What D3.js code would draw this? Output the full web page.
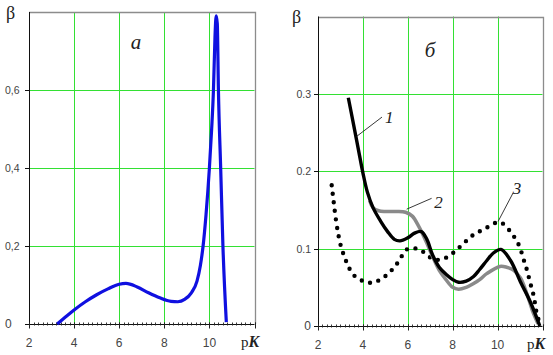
<!DOCTYPE html>
<html><head><meta charset="utf-8">
<script src="https://cdn.jsdelivr.net/npm/d3@7"></script>
<style>body{margin:0;background:#fff}svg{display:block}</style>
</head><body>
<script>
// ---- data ----
const xTicks = [2, 4, 6, 8, 10];
const yTicksA = [0, 0.2, 0.4, 0.6];
const yLabelsA = ["0", "0,2", "0,4", "0,6"];
const yTicksB = [0, 0.1, 0.2, 0.3];
const yLabelsB = ["0", "0.1", "0.2", "0.3"];

// panel а (blue)
const pkA = [3.25,3.7,4.0,4.5,5.0,5.5,6.0,6.3,6.8,7.3,7.8,8.3,8.6,8.9,9.2,9.45,9.6,9.72,9.85,10.0,10.1,10.18,10.25,10.3,10.35,10.4,10.5,10.6,10.75];
const betaA = [0,0.022,0.036,0.057,0.075,0.09,0.102,0.104,0.095,0.08,0.067,0.058,0.057,0.063,0.08,0.11,0.15,0.2,0.28,0.4,0.5,0.6,0.74,0.79,0.77,0.6,0.4,0.2,0.005];

// panel б, curve 1 (black)
const pk1 = [3.35,3.6,3.8,4.0,4.2,4.45,4.8,5.1,5.4,5.65,6.0,6.3,6.6,6.85,7.1,7.4,7.74,8.0,8.26,8.6,8.93,9.2,9.53,9.8,10.15,10.57,11.02,11.46,11.88];
const beta1 = [0.295,0.258,0.228,0.198,0.173,0.153,0.135,0.122,0.112,0.11,0.114,0.12,0.122,0.112,0.092,0.076,0.066,0.06,0.0565,0.058,0.064,0.073,0.085,0.094,0.099,0.085,0.057,0.031,0];
// curve 2 (grey)
const pk2 = [4.3,4.45,4.7,5.0,5.5,5.9,6.2,6.5,6.8,7.1,7.4,7.7,8.0,8.26,8.6,8.93,9.2,9.53,10.1,10.4,10.72,11.02,11.3,11.55,11.8];
const beta2 = [0.162,0.153,0.149,0.148,0.148,0.147,0.142,0.128,0.11,0.09,0.072,0.06,0.05,0.0475,0.05,0.055,0.06,0.068,0.077,0.076,0.072,0.062,0.042,0.02,0.003];
// curve 3 (dotted)
const pk3 = [2.61,2.7,2.8,2.92,3.05,3.2,3.35,3.62,4.02,4.4,4.77,5.21,5.58,5.96,6.4,6.78,7.15,7.6,8.04,8.49,8.93,9.45,9.98,10.2,10.57,10.94,11.17,11.32,11.46,11.6,11.76,11.88];
const beta3 = [0.182,0.16,0.137,0.116,0.1,0.088,0.077,0.065,0.058,0.056,0.06,0.07,0.083,0.099,0.1,0.094,0.086,0.087,0.095,0.107,0.118,0.126,0.134,0.133,0.122,0.105,0.085,0.071,0.055,0.04,0.014,0.004];

const W = 553, H = 355;
const svg = d3.select("body").append("svg").attr("width", W).attr("height", H);

function panel(opts) {
  const x = d3.scaleLinear().domain([2, 12]).range(opts.xr);
  const y = d3.scaleLinear().domain(opts.yd).range(opts.yr);
  const g = svg.append("g");
  const [x0, x1] = opts.xr, [y0, y1] = opts.yr;
  g.selectAll(".vg").data(xTicks.filter(v => v > 2)).join("line")
    .attr("x1", d => Math.round(x(d)) + 0.5).attr("x2", d => Math.round(x(d)) + 0.5)
    .attr("y1", y1).attr("y2", y0).attr("stroke", "#33e033").attr("stroke-width", 1);
  g.selectAll(".hg").data(opts.yt.filter(v => v > 0)).join("line")
    .attr("x1", x0).attr("x2", x1)
    .attr("y1", d => Math.round(y(d)) + 0.5).attr("y2", d => Math.round(y(d)) + 0.5)
    .attr("stroke", "#33e033").attr("stroke-width", 1);
  g.append("path").attr("d", `M${x0},${Math.round(y1)+0.5}H${Math.round(x1)+0.5}V${y0}`)
    .attr("fill", "none").attr("stroke", "#8c8c8c").attr("stroke-width", 1.3);
  g.append("line").attr("x1", Math.round(x0)+0.5).attr("x2", Math.round(x0)+0.5)
    .attr("y1", y1).attr("y2", y0).attr("stroke", "#111").attr("stroke-width", 1);
  g.selectAll(".yt").data(opts.yt).join("line")
    .attr("x1", x0 - 4).attr("x2", x0)
    .attr("y1", d => Math.round(y(d)) + 0.5).attr("y2", d => Math.round(y(d)) + 0.5)
    .attr("stroke", "#111");
  g.selectAll(".yl").data(opts.yt).join("text")
    .attr("x", opts.ylx).attr("y", d => y(d) + 4)
    .attr("text-anchor", opts.yanchor)
    .attr("font-family", "Liberation Sans, Arial, sans-serif")
    .attr("font-size", d => d === 0 ? 12 : 10.5).attr("fill", "#444")
    .text((d, i) => opts.yl[i]);
  const by = Math.round(y(0)) + 0.5;
  g.append("line").attr("x1", x0).attr("x2", x1).attr("y1", by).attr("y2", by)
    .attr("stroke", "#111");
  const minor = d3.range(2, 12.001, 0.2);
  g.selectAll(".mt").data(minor).join("line")
    .attr("x1", d => Math.round(x(d)) + 0.5).attr("x2", d => Math.round(x(d)) + 0.5)
    .attr("y1", by - 2).attr("y2", by + 1).attr("stroke", "#222").attr("stroke-width", 0.9);
  g.selectAll(".Mt").data(xTicks.concat([12])).join("line")
    .attr("x1", d => Math.round(x(d)) + 0.5).attr("x2", d => Math.round(x(d)) + 0.5)
    .attr("y1", by - 2).attr("y2", by + 4).attr("stroke", "#222");
  g.selectAll(".xl").data(xTicks).join("text")
    .attr("x", d => x(d)).attr("y", by + 22).attr("text-anchor", "middle")
    .attr("font-family", "Liberation Sans, Arial, sans-serif")
    .attr("font-size", 12).attr("fill", "#444").text(d => d);
  const pk = g.append("text").attr("x", opts.pkx).attr("y", by + 22)
    .attr("font-family", "Liberation Serif, Times New Roman, serif").attr("fill", "#222");
  pk.append("tspan").attr("font-size", 15).text("p");
  pk.append("tspan").attr("font-size", 16).attr("font-weight", "bold").attr("font-style", "italic").text("K");
  g.append("text").attr("x", opts.bx).attr("y", opts.by)
    .attr("font-family", "Liberation Serif, Times New Roman, serif")
    .attr("font-size", 18).attr("fill", "#222").text("β");
  g.append("text").attr("x", opts.lx).attr("y", opts.ly).attr("text-anchor", "middle")
    .attr("font-family", "Liberation Serif, Times New Roman, serif")
    .attr("font-size", 21).attr("font-style", "italic").attr("fill", "#222").text(opts.letter);
  return {g, x, y};
}

const A = panel({xr: [29, 254.5], yr: [324, 12], yd: [0, 0.8], yt: yTicksA, yl: yLabelsA,
  ylx: 5, yanchor: "start", pkx: 241, bx: 6, by: 19, lx: 136, ly: 49, letter: "а"});
const B = panel({xr: [318, 542.5], yr: [326, 16.5], yd: [0, 0.4], yt: yTicksB, yl: yLabelsB,
  ylx: 311, yanchor: "end", pkx: 527, bx: 292, by: 23, lx: 430, ly: 57, letter: "б"});

function line(P, xs, ys, curve) {
  return d3.line().x(d => P.x(d[0])).y(d => P.y(d[1])).curve(curve || d3.curveMonotoneX)(xs.map((v, i) => [v, ys[i]]));
}

A.g.append("path").attr("d", line(A, pkA, betaA)).attr("fill", "none")
  .attr("stroke", "#1010e0").attr("stroke-width", 3.2).attr("stroke-linejoin", "round");

B.g.append("path").attr("d", line(B, pk3, beta3, d3.curveCatmullRom)).attr("fill", "none")
  .attr("stroke", "#000").attr("stroke-width", 4.4).attr("stroke-linecap", "round")
  .attr("stroke-dasharray", "0,8.6");
B.g.append("path").attr("d", line(B, pk2, beta2, d3.curveCatmullRom)).attr("fill", "none")
  .attr("stroke", "#8a8a8a").attr("stroke-width", 3.5).attr("stroke-linejoin", "round");
B.g.append("path").attr("d", line(B, pk1, beta1, d3.curveCatmullRom)).attr("fill", "none")
  .attr("stroke", "#000").attr("stroke-width", 3.4).attr("stroke-linejoin", "round");

const curveLabels = ["1", "2", "3"];
const leaderFrom = [[3.72, 0.245], [5.95, 0.151], [10.02, 0.135]];
const leaderTo = [[4.85, 0.27], [7.06, 0.165], [10.69, 0.172]];
const labelAt = [[5.17, 0.262], [7.37, 0.152], [10.86, 0.17]];
curveLabels.forEach((t, i) => {
  B.g.append("line")
    .attr("x1", B.x(leaderFrom[i][0])).attr("y1", B.y(leaderFrom[i][1]))
    .attr("x2", B.x(leaderTo[i][0])).attr("y2", B.y(leaderTo[i][1]))
    .attr("stroke", "#222").attr("stroke-width", 0.9);
  B.g.append("text").attr("x", B.x(labelAt[i][0])).attr("y", B.y(labelAt[i][1]))
    .attr("text-anchor", "middle")
    .attr("font-family", "Liberation Serif, Times New Roman, serif")
    .attr("font-size", 17).attr("font-style", "italic").attr("fill", "#222").text(t);
});
</script>
</body></html>
